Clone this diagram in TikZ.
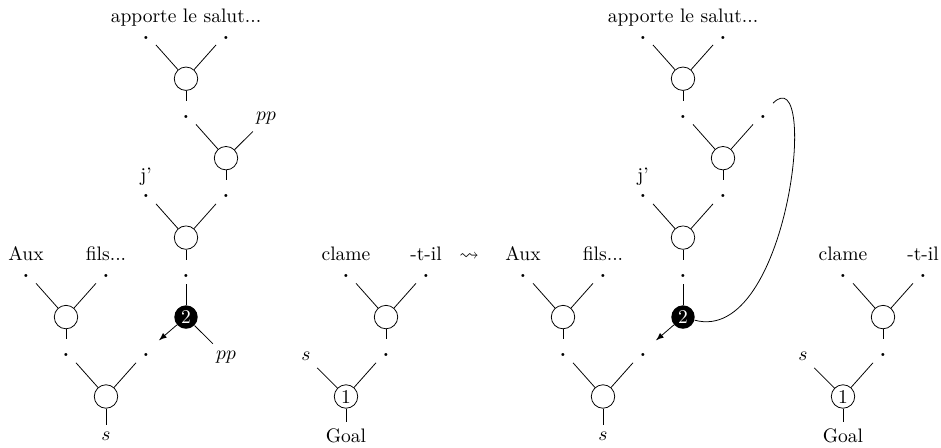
\documentclass[tikz,border=0pt]{standalone}
\usepackage{amssymb}

\begin{document}
\begin{tikzpicture}[
			x=0.72cm, y=0.715cm,
			link/.style={
				circle,
				draw=black,
				inner sep=0pt,
				minimum size=12pt
			},
			cut/.style={
				circle,
				fill=black,
				text=white,
				inner sep=0pt,
				minimum size=12pt
			},
			port/.style={
				inner sep=3.33pt,
				text height=5.4pt,
				text depth=0pt,
				font=\bfseries,
				anchor=base
			},
			lab/.style={
				anchor=base
			},
			move/.style={
				-latex,
				shorten >=2pt
			}
			]
			
			\useasboundingbox (-0.65,0.982) rectangle (22.875,-10.277);
			
			% Before
			
			\node [lab] (l_apporte) at (4,0.42) {apporte le salut...};
			\node [port] (l_d1a) at (3,0) {.};
			\node [port] (l_d1b) at (5,0) {.};
			\node [link] (l_c1) at (4,-1) {};
			
			\node [port] (l_d2a) at (4,-2) {.};
			\node (l_pp1) at (6,-2) {$pp$};
			\node [link] (l_c2) at (5,-3) {};
			
			\node [lab] (l_j) at (3,-3.58) {j'};
			\node [port] (l_d3a) at (3,-4) {.};
			\node [port] (l_d3b) at (5,-4) {.};
			\node [link] (l_c3) at (4,-5) {};
			
			\node [port] (l_d4) at (4,-6) {.};
			\node [cut] (l_cut) at (4,-7) {2};
			\node (l_pp2) at (5,-8) {$pp$};
			
			\node [lab] (l_aux) at (0,-5.58) {Aux};
			\node [lab] (l_fils) at (2,-5.58) {fils...};
			\node [port] (l_d4a) at (0,-6) {.};
			\node [port] (l_d4b) at (2,-6) {.};
			\node [link] (l_c4) at (1,-7) {};
			
			\node [port] (l_d5a) at (1,-8) {.};
			\node [port] (l_d5b) at (3,-8) {.};
			\node [link] (l_c5) at (2,-9) {};
			\node (l_s) at (2,-10) {$s$};
			
			\node [lab] (l_clame) at (8,-5.58) {clame};
			\node [lab] (l_til) at (10,-5.58) {-t-il};
			\node [port] (l_d6a) at (8,-6) {.};
			\node [port] (l_d6b) at (10,-6) {.};
			\node [link] (l_c6) at (9,-7) {};
			
			\node (l_s2) at (7,-8) {$s$};
			\node [port] (l_d7) at (9,-8) {.};
			\node [link] (l_c7) at (8,-9) {1};
			\node (l_goal) at (8,-10) {Goal};
			
			\draw (l_d1a) -- (l_c1);
			\draw (l_d1b) -- (l_c1);
			\draw (l_c1) -- (l_d2a);
			\draw (l_d2a) -- (l_c2);
			\draw (l_pp1) -- (l_c2);
			\draw (l_c2) -- (l_d3b);
			\draw (l_d3a) -- (l_c3);
			\draw (l_d3b) -- (l_c3);
			\draw (l_c3) -- (l_d4);
			\draw (l_d4) -- (l_cut);
			\draw [move] (l_cut) -- (l_d5b);
			\draw (l_cut) -- (l_pp2);
			\draw (l_d4a) -- (l_c4);
			\draw (l_d4b) -- (l_c4);
			\draw (l_c4) -- (l_d5a);
			\draw (l_d5a) -- (l_c5);
			\draw (l_d5b) -- (l_c5);
			\draw (l_c5) -- (l_s);
			\draw (l_d6a) -- (l_c6);
			\draw (l_d6b) -- (l_c6);
			\draw (l_c6) -- (l_d7);
			\draw (l_s2) -- (l_c7);
			\draw (l_d7) -- (l_c7);
			\draw (l_c7) -- (l_goal);
			
			% Step
			
			\node [lab] (leadsto) at (11.08,-5.58) {$\leadsto$};
			
			% After
			
			\begin{scope}[shift={(12.425,0)}]
			\node [lab] (r_apporte) at (4,0.42) {apporte le salut...};
			\node [port] (r_d1a) at (3,0) {.};
			\node [port] (r_d1b) at (5,0) {.};
			\node [link] (r_c1) at (4,-1) {};
			
			\node [port] (r_d2a) at (4,-2) {.};
			\node [port] (r_d2b) at (6,-2) {.};
			\node [link] (r_c2) at (5,-3) {};
			
			\node [lab] (r_j) at (3,-3.58) {j'};
			\node [port] (r_d3a) at (3,-4) {.};
			\node [port] (r_d3b) at (5,-4) {.};
			\node [link] (r_c3) at (4,-5) {};
			
			\node [port] (r_d4) at (4,-6) {.};
			\node [cut] (r_cut) at (4,-7) {2};
			
			\node [lab] (r_aux) at (0,-5.58) {Aux};
			\node [lab] (r_fils) at (2,-5.58) {fils...};
			\node [port] (r_d4a) at (0,-6) {.};
			\node [port] (r_d4b) at (2,-6) {.};
			\node [link] (r_c4) at (1,-7) {};
			
			\node [port] (r_d5a) at (1,-8) {.};
			\node [port] (r_d5b) at (3,-8) {.};
			\node [link] (r_c5) at (2,-9) {};
			\node (r_s) at (2,-10) {$s$};
			
			\node [lab] (r_clame) at (8,-5.58) {clame};
			\node [lab] (r_til) at (10,-5.58) {-t-il};
			\node [port] (r_d6a) at (8,-6) {.};
			\node [port] (r_d6b) at (10,-6) {.};
			\node [link] (r_c6) at (9,-7) {};
			
			\node (r_s2) at (7,-8) {$s$};
			\node [port] (r_d7) at (9,-8) {.};
			\node [link] (r_c7) at (8,-9) {1};
			\node (r_goal) at (8,-10) {Goal};
			\end{scope}
			
			\draw (r_d1a) -- (r_c1);
			\draw (r_d1b) -- (r_c1);
			\draw (r_c1) -- (r_d2a);
			\draw (r_d2a) -- (r_c2);
			\draw (r_d2b) -- (r_c2);
			\draw (r_c2) -- (r_d3b);
			\draw (r_d3a) -- (r_c3);
			\draw (r_d3b) -- (r_c3);
			\draw (r_c3) -- (r_d4);
			\draw (r_d4) -- (r_cut);
			\draw [move] (r_cut) -- (r_d5b);
			\draw (r_cut) to [out=-15, in=45, out distance=50pt, in distance=34pt] (r_d2b);
			\draw (r_d4a) -- (r_c4);
			\draw (r_d4b) -- (r_c4);
			\draw (r_c4) -- (r_d5a);
			\draw (r_d5a) -- (r_c5);
			\draw (r_d5b) -- (r_c5);
			\draw (r_c5) -- (r_s);
			\draw (r_d6a) -- (r_c6);
			\draw (r_d6b) -- (r_c6);
			\draw (r_c6) -- (r_d7);
			\draw (r_s2) -- (r_c7);
			\draw (r_d7) -- (r_c7);
			\draw (r_c7) -- (r_goal);
			
		\end{tikzpicture}
\end{document}
